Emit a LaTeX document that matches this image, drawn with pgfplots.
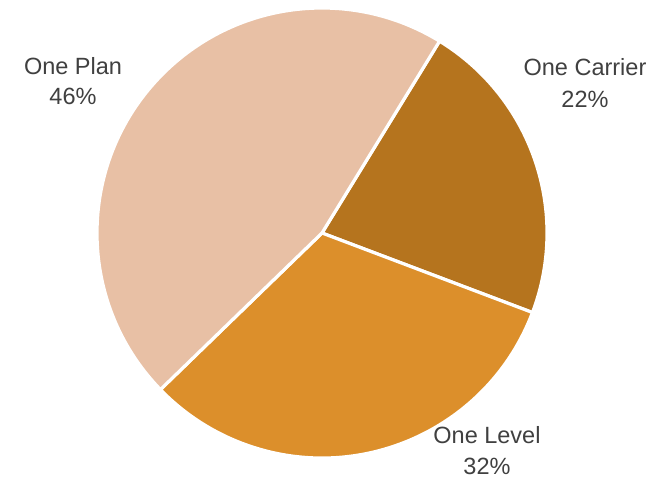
\documentclass[border=0pt]{standalone}
\usepackage{pgfplots}
\pgfplotsset{compat=1.18}
\usepackage{fontspec}
\setmainfont{Liberation Sans}
\definecolor{cplan}{HTML}{E8C0A5}
\definecolor{ccarrier}{HTML}{B5741E}
\definecolor{clevel}{HTML}{DC8F2B}
\definecolor{ctext}{HTML}{404040}
\begin{document}
\begin{tikzpicture}
% values (percent)
\def\vCarrier{22}
\def\vLevel{32}
\def\vPlan{46}
\def\startang{58.5}
\pgfmathsetmacro{\aA}{\startang}
\pgfmathsetmacro{\aB}{\aA-3.6*\vCarrier}
\pgfmathsetmacro{\aC}{\aB-3.6*\vLevel}
\pgfmathsetmacro{\aD}{\aC-3.6*\vPlan}
\begin{axis}[
  scale only axis, width=669pt, height=481pt,
  xmin=0, xmax=669, ymin=0, ymax=481,
  hide axis, clip=false,
]
\path (axis cs:0,0) rectangle (axis cs:669,481);
\def\cx{322}\def\cy{248}\def\R{225pt}
\filldraw[overlay, fill=ccarrier, draw=white, line width=3.2pt, line join=round]
  (axis cs:\cx,\cy) -- ++(\aA:\R) arc[start angle=\aA, end angle=\aB, radius=\R] -- cycle;
\filldraw[overlay, fill=clevel, draw=white, line width=3.2pt, line join=round]
  (axis cs:\cx,\cy) -- ++(\aB:\R) arc[start angle=\aB, end angle=\aC, radius=\R] -- cycle;
\filldraw[overlay, fill=cplan, draw=white, line width=3.2pt, line join=round]
  (axis cs:\cx,\cy) -- ++(\aC:\R) arc[start angle=\aC, end angle=\aD, radius=\R] -- cycle;
\tikzset{lbl/.style={overlay, anchor=base, text=ctext, font=\fontsize{23.5}{28}\selectfont, inner sep=0pt}}
\node[lbl] at (axis cs:73,406) {One Plan};
\node[lbl] at (axis cs:73,376) {\vPlan\%};
\node[lbl] at (axis cs:585,405) {One Carrier};
\node[lbl] at (axis cs:585,373) {\vCarrier\%};
\node[lbl] at (axis cs:487,37) {One Level};
\node[lbl] at (axis cs:487,6) {\vLevel\%};
\end{axis}
\end{tikzpicture}
\end{document}
